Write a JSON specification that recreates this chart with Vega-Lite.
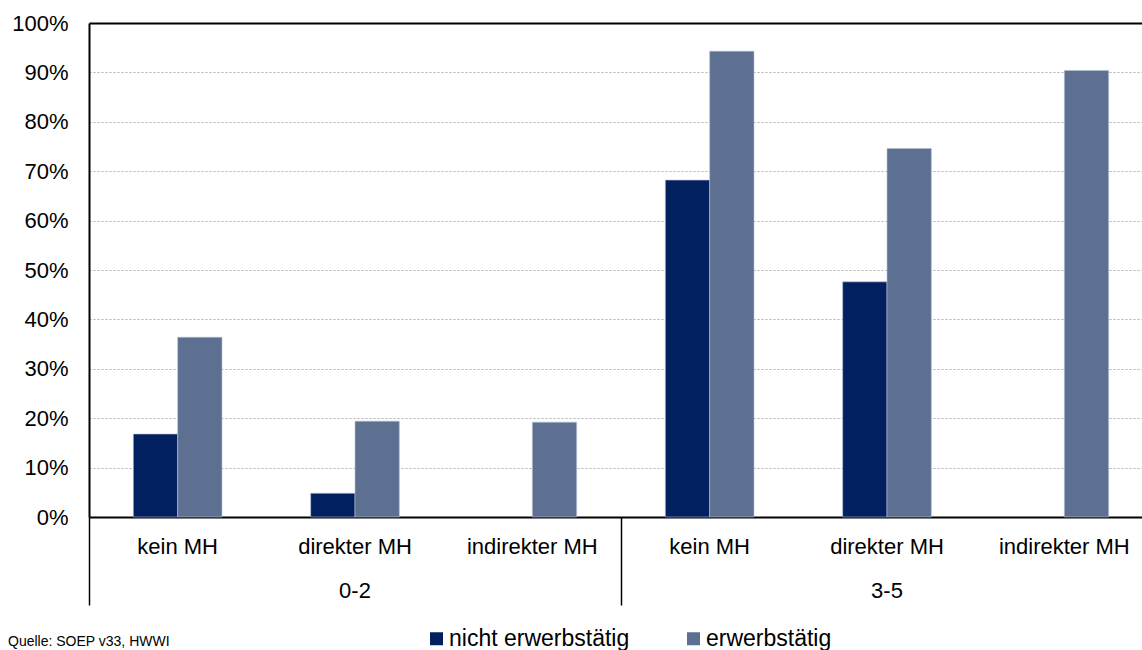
{
  "$schema": "https://vega.github.io/schema/vega-lite/v6.json",
  "autosize": {"type": "none"},
  "padding": {"left": 89, "top": 23, "right": 0, "bottom": 133},
  "width": 1053,
  "height": 494,
  "config": {
    "view": {"stroke": null},
    "font": "Liberation Sans"
  },
  "title": {
    "text": "Quelle: SOEP v33, HWWI",
    "orient": "bottom",
    "anchor": "start",
    "frame": "group",
    "dx": -81,
    "dy": -30,
    "offset": 14,
    "fontSize": 14,
    "fontWeight": "normal",
    "color": "#000000",
    "font": "Liberation Sans"
  },
  "data": {
    "values": [
      {"key": "0-2|kein MH", "serie": "nicht erwerbstätig", "wert": 0.168},
      {"key": "0-2|kein MH", "serie": "erwerbstätig", "wert": 0.364},
      {"key": "0-2|direkter MH", "serie": "nicht erwerbstätig", "wert": 0.048},
      {"key": "0-2|direkter MH", "serie": "erwerbstätig", "wert": 0.194},
      {"key": "0-2|indirekter MH", "serie": "erwerbstätig", "wert": 0.192},
      {"key": "3-5|kein MH", "serie": "nicht erwerbstätig", "wert": 0.682},
      {"key": "3-5|kein MH", "serie": "erwerbstätig", "wert": 0.943},
      {"key": "3-5|direkter MH", "serie": "nicht erwerbstätig", "wert": 0.476},
      {"key": "3-5|direkter MH", "serie": "erwerbstätig", "wert": 0.746},
      {"key": "3-5|indirekter MH", "serie": "erwerbstätig", "wert": 0.904}
    ]
  },
  "mark": {"type": "bar", "stroke": "#b8c2d6", "strokeWidth": 1, "strokeOpacity": 0.6},
  "encoding": {
    "x": {
      "field": "key",
      "type": "nominal",
      "sort": ["0-2|kein MH", "0-2|direkter MH", "0-2|indirekter MH", "3-5|kein MH", "3-5|direkter MH", "3-5|indirekter MH"],
      "scale": {"range": [0, 1064], "paddingInner": 0, "paddingOuter": 0},
      "axis": {
        "title": null,
        "labelAngle": 0,
        "labelExpr": "split(datum.value, '|')[1] == 'direkter MH' ? [split(datum.value, '|')[1], split(datum.value, '|')[0]] : split(datum.value, '|')[1]",
        "labelFontSize": 22,
        "labelColor": "#000000",
        "labelLineHeight": 44,
        "labelBaseline": "top",
        "labelPadding": -69,
        "ticks": true,
        "bandPosition": 0,
        "tickSize": 88,
        "tickWidth": 1.5,
        "tickColor": {"condition": {"test": "indexof(datum.value, 'kein MH') >= 0", "value": "#000000"}, "value": "transparent"},
        "domainColor": "#000000",
        "domainWidth": 2,
        "grid": false
      }
    },
    "xOffset": {
      "field": "serie",
      "type": "nominal",
      "sort": ["nicht erwerbstätig", "erwerbstätig"],
      "scale": {"domain": ["nicht erwerbstätig", "erwerbstätig"], "paddingInner": 0, "paddingOuter": 1.04}
    },
    "y": {
      "field": "wert",
      "type": "quantitative",
      "scale": {"domain": [0, 1], "nice": false},
      "axis": {
        "title": null,
        "format": ".0%",
        "values": [0, 0.1, 0.2, 0.3, 0.4, 0.5, 0.6, 0.7, 0.8, 0.9, 1],
        "ticks": false,
        "labelPadding": 21,
        "labelFontSize": 22,
        "labelColor": "#000000",
        "domainColor": "#000000",
        "domainWidth": 2,
        "grid": true,
        "gridColor": {"condition": {"test": "datum.value == 1", "value": "#000000"}, "value": "#b0b0b0"},
        "gridWidth": {"condition": {"test": "datum.value == 1", "value": 2}, "value": 1},
        "gridDash": {"condition": {"test": "datum.value == 1", "value": []}, "value": [2, 2]}
      }
    },
    "color": {
      "field": "serie",
      "type": "nominal",
      "scale": {"domain": ["nicht erwerbstätig", "erwerbstätig"], "range": ["#022060", "#5d7091"]},
      "legend": {
        "title": null,
        "orient": "none",
        "legendX": 336,
        "legendY": 604,
        "direction": "horizontal",
        "symbolType": "square",
        "symbolSize": 169,
        "symbolStrokeWidth": 0,
        "symbolOpacity": 1,
        "labelFontSize": 23,
        "labelColor": "#000000",
        "labelOffset": 1,
        "columnPadding": 52,
        "labelLimit": 300
      }
    }
  }
}
